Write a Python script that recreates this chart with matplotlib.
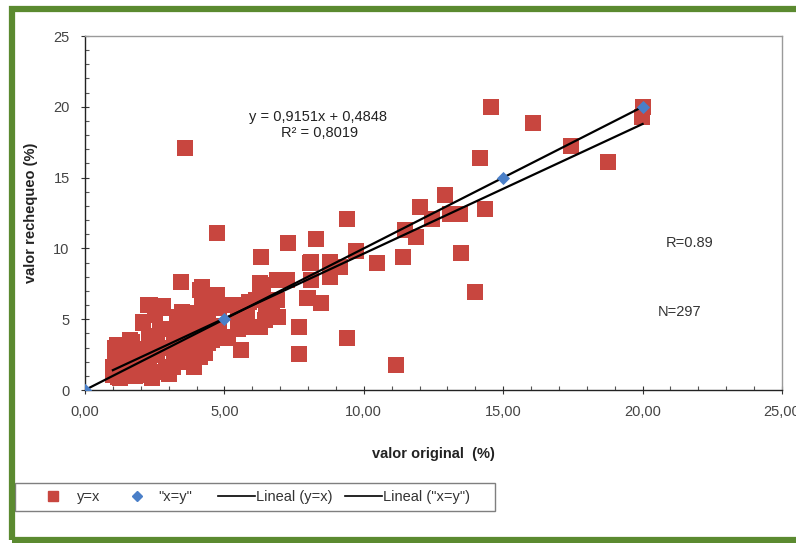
import matplotlib
matplotlib.use("Agg")
import matplotlib.pyplot as plt
from matplotlib.patches import Rectangle
from matplotlib.ticker import MultipleLocator, FuncFormatter
from matplotlib.lines import Line2D
import numpy as np

plt.rcParams['font.family'] = ['Liberation Sans', 'DejaVu Sans']

# red series "y=x" (valor original, valor rechequeo)
red_x = [1.0, 1.08, 1.08, 1.08, 1.13, 1.01, 1.19, 1.25,
         1.6, 1.67, 1.5, 1.5, 1.8, 1.9, 1.9,
         2.09, 2.09, 2.27, 2.33, 2.8, 2.8, 2.2, 2.39, 2.3, 2.3, 2.3, 2.6, 2.6, 2.7, 2.9, 2.9, 2.5,
         3.17, 3.29, 3.58, 3.47, 3.2, 3.2, 3.2, 3.5, 3.5, 3.5, 3.44, 3.64,
         3.76, 4.12, 4.0, 4.0, 4.0, 4.12, 4.18, 4.2, 4.4, 4.4, 4.4,
         4.6, 4.66, 4.72, 4.6, 4.54, 4.8, 4.8, 5.0, 5.08, 5.14,
         5.38, 5.43, 5.5, 5.5, 5.61, 5.8, 5.97, 5.9,
         6.15, 6.27, 6.27, 6.27, 6.27, 6.45, 6.39, 6.5, 6.87, 6.87, 6.81, 6.93, 6.7, 7.11, 7.23,
         6.33, 3.58, 4.73, 7.29, 8.28, 8.06, 8.78, 9.14, 8.78, 8.12, 8.0, 8.48, 7.68, 9.38, 7.68,
         11.17, 9.71, 10.48, 11.39, 13.5, 11.89, 11.47, 9.38, 13.44, 13.08, 12.43, 12.0, 14.34,
         12.9, 14.16, 13.98, 14.57, 16.07, 17.44, 18.76, 19.99, 20.0, 8.12, 8.78, 7.11, 7.95,
         1.4, 1.7, 2.0, 2.6, 3.0, 3.9, 4.3, 1.3]
red_y = [1.06, 1.2, 2.0, 2.97, 3.18, 1.65, 0.94, 0.85,
         3.5, 3.41, 2.4, 1.5, 1.0, 2.0, 2.9,
         4.82, 4.7, 6.0, 6.0, 5.9, 5.77, 1.06, 0.82, 2.0, 3.0, 3.8, 2.5, 3.5, 4.3, 1.5, 3.0, 5.3,
         1.65, 5.18, 4.82, 5.53, 2.5, 3.5, 4.3, 2.0, 3.0, 4.0, 7.63, 5.41,
         2.12, 2.35, 3.0, 4.0, 5.0, 7.06, 7.3, 6.0, 5.5, 4.5, 3.3,
         6.6, 6.7, 6.7, 3.65, 3.53, 5.8, 4.5, 6.0, 3.65, 3.76,
         6.0, 6.0, 5.0, 4.3, 2.82, 5.5, 4.47, 6.2,
         6.36, 6.36, 7.4, 7.53, 4.47, 4.94, 7.4, 5.7, 7.77, 6.36, 6.36, 5.18, 5.5, 7.77, 7.77,
         9.4, 17.1, 11.1, 10.36, 10.69, 8.99, 8.99, 8.7, 8.0, 7.77, 6.47, 6.12, 4.42, 3.65, 2.54,
         1.77, 9.84, 8.94, 9.4, 9.65, 10.8, 11.3, 12.1, 12.4, 12.4, 12.1, 12.9, 12.8,
         13.8, 16.4, 6.94, 20.0, 18.88, 17.2, 16.1, 19.3, 20.0, 9.07, 9.07, 7.77, 6.47,
         2.6, 2.4, 1.2, 1.3, 1.1, 1.6, 2.6, 2.3]

# blue series "x=y"
blue_x = [0, 5, 15, 20]
blue_y = [0, 5, 15, 20]

# trendline y = 0,9151x + 0,4848
slope = 0.9151
intercept = 0.4848

x_ticks = [0, 5, 10, 15, 20, 25]
y_ticks = [0, 5, 10, 15, 20, 25]

legend_labels = ['y=x', '"x=y"', 'Lineal (y=x)', 'Lineal ("x=y")']

W, H = 796, 543
fig = plt.figure(figsize=(W / 100, H / 100), dpi=100)
fig.patch.set_facecolor('white')

ax = fig.add_axes([85 / W, 1 - 390 / H, (782 - 85) / W, (390 - 36) / H])
ax.set_xlim(0, 25)
ax.set_ylim(0, 25)

RED = '#c8463f'
BLUE = '#4a7fc8'
ax.scatter(red_x, red_y, marker='s', s=125, color=RED, linewidths=0, zorder=2)
ax.scatter(blue_x, blue_y, marker='D', s=45, color=BLUE, linewidths=0, zorder=4)

tx = np.array([min(red_x), max(red_x)])
ax.plot(tx, slope * tx + intercept, color='black', lw=1.6, zorder=3)
bx = np.array([min(blue_x), max(blue_x)])
ax.plot(bx, bx, color='black', lw=1.6, zorder=3)

ax.set_xticks(x_ticks)
ax.set_yticks(y_ticks)
ax.xaxis.set_major_formatter(FuncFormatter(lambda v, p: f"{v:.2f}".replace('.', ',')))
ax.yaxis.set_major_formatter(FuncFormatter(lambda v, p: f"{int(v)}"))
ax.xaxis.set_minor_locator(MultipleLocator(1))
ax.yaxis.set_minor_locator(MultipleLocator(1))
ax.tick_params(axis='both', which='major', direction='inout', length=6, width=0.8,
               labelsize=10.5, colors='#333333', pad=8)
ax.tick_params(axis='both', which='minor', direction='in', length=3, width=0.8, colors='#555555')
ax.tick_params(axis='x', labelcolor='#444444')
ax.tick_params(axis='y', labelcolor='#444444')

for side in ['top', 'right']:
    ax.spines[side].set_color('#9a9a9a')
    ax.spines[side].set_linewidth(1.0)
for side in ['left', 'bottom']:
    ax.spines[side].set_color('#222222')
    ax.spines[side].set_linewidth(1.0)

ax.set_xlabel('valor original  (%)', fontsize=10.5, fontweight='bold', color='#222222')
ax.xaxis.set_label_coords(0.5, -0.16)
ax.set_ylabel('valor rechequeo (%)', fontsize=10.5, fontweight='bold', color='#222222')
ax.yaxis.set_label_coords(-0.068, 0.5)

fig.text(318 / W, 1 - 117 / H, 'y = 0,9151x + 0,4848', fontsize=10.5, ha='center', va='center', color='#222222')
fig.text(320 / W, 1 - 133 / H, 'R² = 0,8019', fontsize=10.5, ha='center', va='center', color='#222222')
fig.text(690 / W, 1 - 243 / H, 'R=0.89', fontsize=10.5, ha='center', va='center', color='#333333')
fig.text(680 / W, 1 - 312 / H, 'N=297', fontsize=10.5, ha='center', va='center', color='#333333')

# legend frame drawn separately
fig.add_artist(Rectangle((15 / W, 1 - 511 / H), (495 - 15) / W, (511 - 483) / H,
                         transform=fig.transFigure, fill=False, edgecolor='#7f7f7f', lw=1.0))
handles = [
    Line2D([], [], marker='s', color=RED, linestyle='none', markersize=7),
    Line2D([], [], marker='D', color=BLUE, linestyle='none', markersize=5),
    Line2D([], [], color='black', lw=1.2),
    Line2D([], [], color='black', lw=1.2),
]
entry_left = [34.5, 118.5, 218, 345]   # pixel x of each legend handle box
entry_pad = [0.38, 0.17, 0.05, 0.05]
for h, lab, xl, pad in zip(handles, legend_labels, entry_left, entry_pad):
    lg = fig.legend([h], [lab], loc='center left', fontsize=10.5,
                    bbox_to_anchor=(xl / W, 1 - 497 / H), frameon=False,
                    handlelength=2.55, handletextpad=pad, borderpad=0, borderaxespad=0)
    for t in lg.get_texts():
        t.set_color('#333333')

border = Rectangle((12.5 / W, 3 / H), (800 - 12.5) / W, (534 - 3) / H,
                   transform=fig.transFigure, fill=False, edgecolor='#5b8a30', lw=4.5, zorder=10)
fig.add_artist(border)

fig.savefig('out.png', dpi=100)
